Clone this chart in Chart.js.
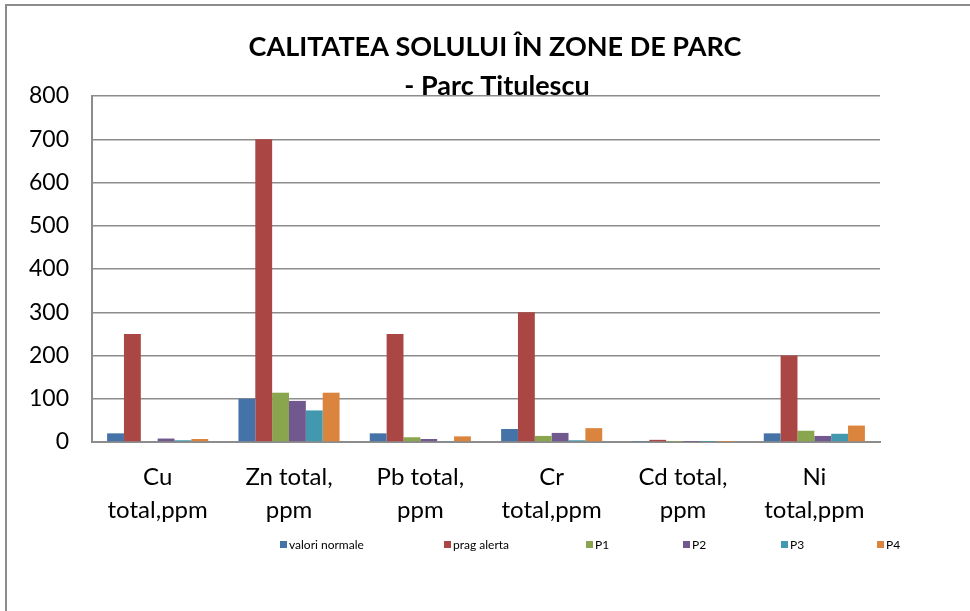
<!DOCTYPE html>
<html>
<head>
<meta charset="utf-8">
<script src="https://cdn.jsdelivr.net/npm/chart.js@4"></script>
<style>
  html, body { margin: 0; padding: 0; background: #fff; overflow: hidden; }
  #wrap { position: relative; width: 970px; height: 611px; }
  #frame { position: absolute; left: 5px; top: 4px; width: 1000px; height: 700px;
           border-top: 2px solid #8c8c8c; border-left: 2px solid #8c8c8c; pointer-events: none; }
  canvas { position: absolute; left: 0; top: 0; }
</style>
</head>
<body>
<div id="wrap">
  <canvas id="c" width="970" height="611"></canvas>
  <div id="frame"></div>
</div>
<script>
const categories = [
  ['Cu', 'total,ppm'],
  ['Zn total,', 'ppm'],
  ['Pb total,', 'ppm'],
  ['Cr', 'total,ppm'],
  ['Cd total,', 'ppm'],
  ['Ni', 'total,ppm']
];
const seriesNames = ['valori normale', 'prag alerta', 'P1', 'P2', 'P3', 'P4'];
const valoriNormale = [20, 100, 20, 30, 1, 20];
const pragAlerta    = [250, 700, 250, 300, 5, 200];
const p1 = [0, 114, 11, 14, 0.3, 26];
const p2 = [8, 95, 7, 21, 0.3, 14];
const p3 = [4, 73, 2, 4, 0.3, 19];
const p4 = [7, 114, 13, 32, 0.3, 38];
const yTicks = [0, 100, 200, 300, 400, 500, 600, 700, 800];
const titleLines = ['CALITATEA SOLULUI ÎN ZONE DE PARC', '- Parc Titulescu'];

const colors = ['#4572A7', '#AA4643', '#89A54E', '#71588F', '#4198AF', '#DB843D'];
const allSeries = [valoriNormale, pragAlerta, p1, p2, p3, p4];
const FONT = 'Lato, "Open Sans", sans-serif';

const datasets = allSeries.map((d, i) => ({
  label: seriesNames[i],
  data: d,
  backgroundColor: colors[i],
  borderWidth: 0,
  categoryPercentage: 0.77,
  barPercentage: 1.0
}));

const titlePlugin = {
  id: 'customTitle',
  afterDraw(chart) {
    const ctx = chart.ctx;
    ctx.save();
    ctx.fillStyle = '#000';
    ctx.textAlign = 'center';
    ctx.textBaseline = 'middle';
    ctx.font = 'bold 27px ' + FONT;
    ctx.fillText(titleLines[0], 495, 47);
    ctx.fillText(titleLines[1], 497, 86);
    ctx.restore();
  }
};

const legendX = [283, 447, 589, 686, 784, 880];
const legendPlugin = {
  id: 'customLegend',
  afterDraw(chart) {
    const ctx = chart.ctx;
    ctx.save();
    ctx.font = '12px ' + FONT;
    ctx.textBaseline = 'middle';
    ctx.textAlign = 'left';
    chart.data.datasets.forEach((ds, i) => {
      const x = legendX[i], y = 545;
      ctx.fillStyle = ds.backgroundColor;
      ctx.fillRect(x - 3, y - 4, 7, 7);
      ctx.fillStyle = '#000';
      ctx.fillText(ds.label, x + 6, y);
    });
    ctx.restore();
  }
};

new Chart(document.getElementById('c'), {
  type: 'bar',
  data: { labels: categories, datasets },
  options: {
    responsive: false,
    animation: false,
    layout: { padding: { left: 0, right: 90, top: 96, bottom: 89 } },
    plugins: { legend: { display: false }, title: { display: false }, tooltip: { enabled: false } },
    scales: {
      x: {
        grid: { display: false, drawTicks: false },
        border: { display: true, color: '#8c8c8c', width: 2 },
        ticks: { color: '#000', font: { family: FONT, size: 24, lineHeight: 1.4 }, padding: 18, maxRotation: 0, autoSkip: false },
        afterFit(s) { s.height = 80; }
      },
      y: {
        min: 0, max: 800,
        afterBuildTicks(s) { s.ticks = yTicks.map(v => ({ value: v })); },
        grid: { color: '#8c8c8c', lineWidth: 1.5, drawTicks: false },
        border: { display: true, color: '#8c8c8c', width: 2 },
        ticks: { color: '#000', font: { family: FONT, size: 23 }, padding: 23 },
        afterFit(s) { s.width = 92; }
      }
    }
  },
  plugins: [titlePlugin, legendPlugin]
});
</script>
</body>
</html>
